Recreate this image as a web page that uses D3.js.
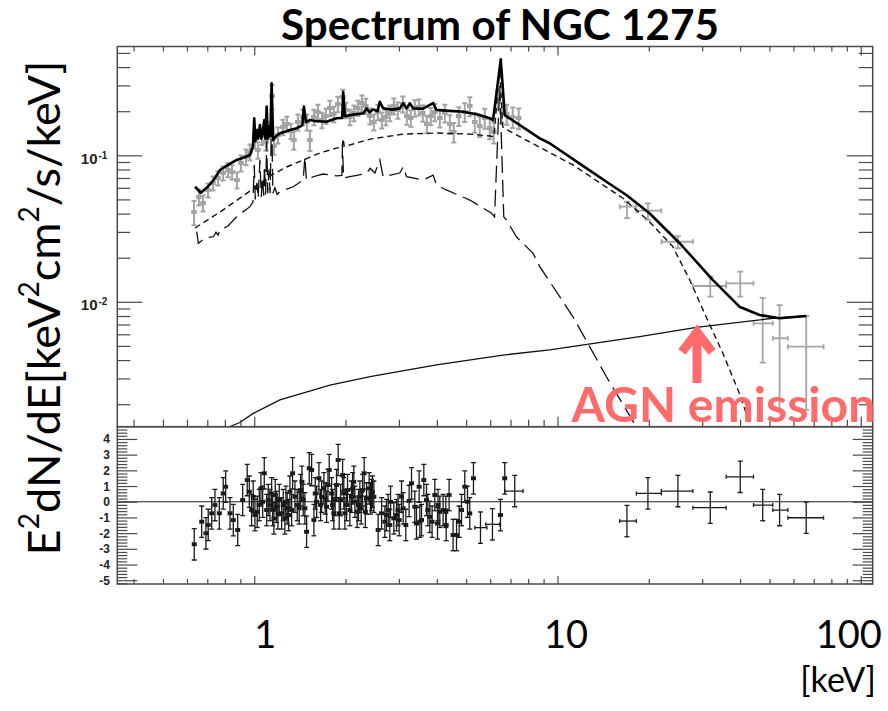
<!DOCTYPE html>
<html>
<head>
<meta charset="utf-8">
<script src="https://cdn.jsdelivr.net/npm/d3@7"></script>
<style>
  body { margin: 0; background: #fff; }
  svg { display: block; }
</style>
</head>
<body>
<svg id="chart" width="888" height="711"></svg>
<script>
// ---------------- data ----------------
// Energy axis ticks (keV)
const xMajorTicks = [1, 10, 100];
const xMinorTicks = [0.4, 0.5, 0.6, 0.7, 0.8, 0.9, 2, 3, 4, 5, 6, 7, 8, 9, 20, 30, 40, 50, 60, 70, 80, 90];
const xTickLabels = ["1", "10", "100"];
// Flux axis ticks (keV^2 cm^-2 s^-1 keV^-1)
const yMajorTicks = [0.01, 0.1];
const yMajorLabels = [["10", "-2"], ["10", "-1"]];
const yMinorTicks = [0.002, 0.003, 0.004, 0.005, 0.006, 0.007, 0.008, 0.009,
                     0.02, 0.03, 0.04, 0.05, 0.06, 0.07, 0.08, 0.09, 0.2, 0.3, 0.4, 0.5];
// Residual axis ticks (sigma)
const residMajorTicks = [-5, -4, -3, -2, -1, 0, 1, 2, 3, 4];
const residMinorTicks = [-5.2, -4.8, -4.6, -4.4, -4.2, -3.8, -3.6, -3.4, -3.2, -2.8, -2.6, -2.4, -2.2,
  -1.8, -1.6, -1.4, -1.2, -0.8, -0.6, -0.4, -0.2, 0.2, 0.4, 0.6, 0.8, 1.2, 1.4, 1.6, 1.8,
  2.2, 2.4, 2.6, 2.8, 3.2, 3.4, 3.6, 3.8, 4.2, 4.4, 4.6];

// Soft X-ray spectrum: [energy keV, E^2 dN/dE, error]
const softSpectrum = [
  [0.633,0.0410,0.0077],[0.657,0.0519,0.0065],[0.678,0.0472,0.0059],[0.704,0.0579,0.0064],
  [0.731,0.0647,0.0071],[0.759,0.0700,0.0077],[0.789,0.0757,0.0083],[0.819,0.0794,0.0087],
  [0.845,0.0769,0.0085],[0.877,0.0678,0.0085],[0.904,0.0886,0.0110],[0.939,0.0974,0.0120],
  [0.968,0.1053,0.0130],[1.005,0.1272,0.0170],[1.028,0.1087,0.0140],[1.060,0.1354,0.0180],
  [1.093,0.1233,0.0160],[1.126,0.1488,0.0190],[1.144,0.254,0.048],[1.161,0.1157,0.015],
  [1.197,0.1376,0.017],[1.243,0.1561,0.019],[1.281,0.1636,0.020],[1.321,0.1465,0.018],
  [1.351,0.1272,0.018],[1.393,0.1688,0.021],[1.447,0.1826,0.022],[1.492,0.1688,0.021],
  [1.526,0.1272,0.020],[1.573,0.1826,0.022],[1.622,0.1975,0.024],[1.672,0.1742,0.021],
  [1.723,0.1855,0.022],[1.776,0.2103,0.025],[1.830,0.1914,0.023],[1.887,0.224,0.027],
  [1.960,0.250,0.030],[2.005,0.2037,0.025],[2.067,0.1826,0.022],[2.131,0.1945,0.024],
  [2.196,0.2103,0.025],[2.264,0.2275,0.028],[2.333,0.2171,0.026],[2.406,0.1855,0.023],
  [2.480,0.1688,0.021],[2.556,0.1975,0.024],[2.635,0.1742,0.022],[2.716,0.1826,0.023],
  [2.800,0.1945,0.024],[2.886,0.2171,0.027],[2.975,0.2037,0.026],[3.090,0.224,0.028],
  [3.185,0.1855,0.024],[3.283,0.1797,0.023],[3.384,0.2103,0.027],[3.488,0.2138,0.027],
  [3.596,0.1945,0.025],[3.707,0.1636,0.022],[3.821,0.1855,0.025],[3.939,0.1975,0.027],
  [4.092,0.1797,0.025],[4.250,0.1945,0.027],[4.414,0.1636,0.024],[4.550,0.1442,0.022],
  [4.726,0.1855,0.027],[4.946,0.1975,0.029],[5.137,0.2171,0.032],[5.335,0.1688,0.026],
  [5.541,0.1585,0.025],[5.755,0.1797,0.028],[5.978,0.1536,0.025],[6.162,0.1442,0.024],
  [6.353,0.2385,0.036],[6.549,0.1975,0.031],[6.801,0.1914,0.030],[7.118,0.1826,0.029],
  [7.450,0.1797,0.029]
];

// Hard X-ray spectrum: [energy, bin low, bin high, flux, flux low, flux high]
const hardSpectrum = [
  [16.94,16.03,18.2,0.0446,0.0372,0.0482],
  [19.87,18.2,22.0,0.0419,0.0362,0.047],
  [24.95,22.0,27.96,0.0257,0.0232,0.0281],
  [31.9,27.96,36.0,0.01282,0.01083,0.01483],
  [40.05,36.0,44.3,0.01337,0.01083,0.01605],
  [47.5,44.3,51.3,0.00713,0.00384,0.01062],
  [54.0,51.3,57.5,0.00564,0.00183,0.0095],
  [66.1,57.5,75.4,0.00494,0.00183,0.008]
];

// Total model
const totalModel = [
  [0.638,0.061],[0.666,0.0555],[0.70,0.0605],[0.735,0.068],[0.771,0.0794],[0.82,0.086],
  [0.875,0.093],[0.93,0.097],[0.968,0.1005],[0.99,0.115],[1.0,0.179],[1.008,0.125],
  [1.023,0.149],[1.03,0.13],[1.044,0.161],[1.055,0.13],[1.065,0.14],[1.079,0.174],
  [1.088,0.13],[1.099,0.215],[1.108,0.13],[1.118,0.157],[1.13,0.135],[1.141,0.31],
  [1.155,0.127],[1.18,0.135],[1.215,0.1413],[1.26,0.145],[1.311,0.1488],[1.38,0.153],
  [1.44,0.16],[1.458,0.215],[1.48,0.1688],[1.525,0.174],[1.6,0.171],[1.732,0.1696],
  [1.867,0.1789],[1.95,0.18],[1.965,0.27],[1.99,0.185],[2.07,0.188],[2.29,0.1935],
  [2.346,0.209],[2.40,0.196],[2.466,0.206],[2.55,0.20],[2.594,0.232],[2.661,0.209],
  [2.85,0.205],[3.02,0.209],[3.10,0.2265],[3.18,0.209],[3.26,0.2265],[3.34,0.209],
  [3.6,0.208],[3.89,0.227],[3.99,0.2038],[4.4,0.201],[4.88,0.1985],[5.5,0.189],
  [5.98,0.179],[6.13,0.174],[6.50,0.452],[6.70,0.188],[8.74,0.1306],[9.42,0.1208],
  [12.0,0.086],[14.5,0.066],[16.87,0.0536],[20.1,0.0402],[25.3,0.0251],[32.5,0.0141],
  [39.8,0.00926],[46.4,0.00813],[54.0,0.00772],[66.1,0.0080]
];

// Hot thermal component (short dashes)
const hotThermal = [
  [0.638,0.0319],[0.771,0.041],[0.968,0.057],[1.126,0.0723],[1.279,0.0832],[1.45,0.0929],
  [1.646,0.1037],[1.867,0.112],[1.95,0.114],[1.965,0.13],[1.98,0.115],[2.12,0.1194],
  [2.41,0.129],[3.10,0.1396],[3.99,0.1419],[5.14,0.1396],[5.98,0.1355],[6.17,0.134],
  [6.45,0.394],[6.60,0.156],[6.70,0.152],[11.25,0.0859],[16.44,0.0509],[20.1,0.0352],
  [24.0,0.0238],[27.3,0.0141],[30.9,0.0079],[35.1,0.00445],[39.8,0.00237],[43.0,0.00148],
  [46.4,0.00105]
];

// Cool thermal component with emission lines (long dashes)
const coolThermal = [
  [0.646,0.0301],[0.654,0.0251],[0.688,0.0273],[0.733,0.0278],[0.748,0.0299],[0.76,0.0285],
  [0.771,0.0309],[0.819,0.0329],[0.875,0.0381],[0.968,0.0446],[0.99,0.048],[1.0,0.0857],
  [1.008,0.05],[1.02,0.065],[1.03,0.051],[1.044,0.093],[1.055,0.052],[1.065,0.07],
  [1.075,0.053],[1.08,0.085],[1.09,0.054],[1.099,0.125],[1.108,0.055],[1.118,0.08],
  [1.128,0.055],[1.141,0.19],[1.152,0.055],[1.17,0.06],[1.19,0.054],[1.215,0.0564],
  [1.345,0.061],[1.45,0.0678],[1.469,0.0978],[1.486,0.0678],[1.564,0.0714],[1.685,0.0745],
  [1.867,0.0723],[1.945,0.073],[1.954,0.1175],[1.97,0.07],[2.07,0.0714],[2.346,0.0754],
  [2.41,0.0815],[2.50,0.0757],[2.594,0.0929],[2.661,0.0714],[3.02,0.0757],[3.10,0.0836],
  [3.18,0.0714],[3.61,0.0678],[3.89,0.0733],[3.99,0.0627],[4.30,0.058],[5.14,0.0495],
  [6.06,0.0402],[6.20,0.038],[6.45,0.30],[6.65,0.038],[6.79,0.0362],[7.32,0.0278],
  [8.31,0.0214],[8.74,0.0174],[11.25,0.0079],[14.5,0.00308],[18.2,0.0014],[20,0.001]
];

// AGN power law (thin solid)
const agnPowerLaw = [
  [0.78,0.00125],[0.811,0.00137],[0.84,0.00142],[0.897,0.0015],[0.992,0.00173],
  [1.215,0.00214],[1.776,0.0027],[2.41,0.00308],[3.99,0.00371],[6.61,0.00433],
  [9.42,0.00469],[18.66,0.00578],[28.7,0.0067],[51.3,0.00772],[66.1,0.0080]
];

// Residuals, soft band: [energy, (data-model)/sigma]
const softResiduals = [
  [0.634,-2.71],[0.671,-1.27],[0.693,-2.01],[0.705,-1.48],[0.724,-0.74],[0.742,-0.21],
  [0.767,-0.74],[0.790,0.53],[0.805,0.96],[0.832,-0.74],[0.853,-1.17],[0.882,-1.8],
  [0.916,0.11],[0.948,1.38],[0.963,0.64],[0.980,-0.53],[0.992,0.32],[1.005,-0.85],
  [1.023,-0.64],[1.039,-0.21],[1.052,0.85],[1.066,0.0],[1.079,1.81],[1.099,-0.53],
  [1.112,0.11],[1.126,-0.21],[1.141,0.53],[1.150,-0.53],[1.161,-1.06],[1.173,0.43],
  [1.185,-0.32],[1.197,-0.74],[1.209,0.11],[1.231,-0.74],[1.246,-0.21],[1.262,-1.06],
  [1.272,0.0],[1.284,-0.42],[1.298,-0.85],[1.311,0.64],[1.328,-0.53],[1.338,1.81],
  [1.362,0.32],[1.386,-0.21],[1.407,-0.42],[1.422,0.74],[1.436,1.27],[1.450,0.11],
  [1.469,-0.42],[1.488,-1.91],[1.518,2.13],[1.546,2.02],[1.573,-1.17],[1.589,0.53],
  [1.606,0.0],[1.634,1.49],[1.655,-0.21],[1.668,0.32],[1.697,0.85],[1.714,0.21],
  [1.732,-0.32],[1.750,1.06],[1.767,2.02],[1.799,0.53],[1.813,-0.21],[1.830,-0.74],
  [1.848,0.11],[1.868,1.06],[1.891,2.66],[1.906,-0.74],[1.926,0.11],[1.956,1.7],
  [1.974,0.53],[1.990,-0.74],[2.016,-0.21],[2.031,0.74],[2.067,-0.53],[2.092,0.32],
  [2.110,0.85],[2.130,1.27],[2.147,0.0],[2.185,-0.64],[2.207,-0.21],[2.230,0.32],
  [2.253,-0.42],[2.276,0.74],[2.304,1.81],[2.324,-0.64],[2.346,0.21],[2.393,0.85],
  [2.416,0.21],[2.437,0.43],[2.452,0.64],[2.480,0.32],[2.562,-1.8],[2.630,-0.74],
  [2.696,-1.27],[2.729,-0.85],[2.764,-0.53],[2.799,-1.48],[2.815,0.0],[2.886,-1.06],
  [2.946,-0.85],[2.980,-0.53],[3.005,-1.17],[3.060,0.32],[3.098,-0.42],[3.161,-1.48],
  [3.241,0.05],[3.301,1.17],[3.384,-0.32],[3.428,-1.38],[3.497,0.96],[3.516,-1.27],
  [3.561,-1.17],[3.624,1.38],[3.698,0.11],[3.737,-0.53],[3.792,-0.96],[3.859,-1.27],
  [3.939,0.43],[4.021,-1.38],[4.037,-0.21],[4.092,-0.64],[4.196,-0.53],[4.283,-0.64],
  [4.295,-1.48],[4.391,0.43],[4.526,-2.12],[4.645,-2.12],[4.738,-1.27],[4.825,-0.53],
  [4.946,0.96],[5.049,0.0],[5.137,-0.74],[5.283,1.49],[6.484,-0.85],[6.699,1.49]
];
// Residuals of the wider soft bins: [energy, bin low, bin high, residual]
const wideResiduals = [
  [5.572,5.34,5.85,-1.65],[6.102,5.80,6.44,-1.44],[7.228,6.70,7.70,0.68]
];
// Residuals, hard band: [energy, bin low, bin high, residual]
const hardResiduals = [
  [16.94,16.03,18.2,-1.23],[19.87,18.2,22.0,0.53],[24.95,22.0,27.96,0.68],
  [31.9,27.96,36.0,-0.38],[40.05,36.0,44.3,1.59],[47.5,44.3,51.3,-0.21],
  [54.0,51.3,57.5,-0.53],[66.1,57.5,75.4,-1.02]
];
const residSigma = 1.0;
const narrowBinDex = 0.006;

// ---------------- layout ----------------
const svg = d3.select("#chart");
const L = 117.3, R = 872.7, T = 46.5, M = 426.7, B = 584;

const x = d3.scaleLog().domain([0.3535, 109.5]).range([L, R]);
const y = d3.scaleLog().domain([0.001404, 0.553]).range([M, T]);
const yr = d3.scaleLinear().domain([-5.24, 4.78]).range([B, M]);

const defs = svg.append("defs");
defs.append("clipPath").attr("id", "clipTop")
  .append("rect").attr("x", L).attr("y", T).attr("width", R - L).attr("height", M - T);
defs.append("clipPath").attr("id", "clipRes")
  .append("rect").attr("x", L).attr("y", M).attr("width", R - L).attr("height", B - M);

const AX = "#4a4a4a";

// ---------------- error-bar helper ----------------
function errorBars(g, pts, color, width, cap, sq) {
  const gg = g.append("g").attr("stroke", color).attr("stroke-width", width).attr("fill", "none");
  pts.forEach(p => {
    const cx = x(p.e), cy = p.sy(p.v);
    const x0 = x(p.e0), x1 = x(p.e1);
    const yTop = p.sy(p.v1), yBot = p.sy(p.v0);
    gg.append("line").attr("x1", cx).attr("x2", cx).attr("y1", yTop).attr("y2", yBot);
    gg.append("line").attr("x1", x0).attr("x2", x1).attr("y1", cy).attr("y2", cy);
    gg.append("line").attr("x1", cx - cap).attr("x2", cx + cap).attr("y1", yTop).attr("y2", yTop);
    gg.append("line").attr("x1", cx - cap).attr("x2", cx + cap).attr("y1", yBot).attr("y2", yBot);
    gg.append("line").attr("x1", x0).attr("x2", x0).attr("y1", cy - cap + 0.5).attr("y2", cy + cap - 0.5);
    gg.append("line").attr("x1", x1).attr("x2", x1).attr("y1", cy - cap + 0.5).attr("y2", cy + cap - 0.5);
    if (sq > 0) {
      g.append("rect").attr("x", cx - sq / 2).attr("y", cy - sq / 2)
        .attr("width", sq).attr("height", sq).attr("fill", color);
    }
  });
}

// ---------------- upper panel ----------------
const upper = svg.append("g").attr("clip-path", "url(#clipTop)");
const binFactor = Math.pow(10, narrowBinDex);

errorBars(upper, softSpectrum.map(d => ({
  e: d[0], e0: d[0] / binFactor, e1: d[0] * binFactor, v: d[1], v0: d[1] - d[2], v1: d[1] + d[2], sy: y
})), "#a3a3a3", 2, 2.5, 4);

errorBars(upper, hardSpectrum.map(d => ({
  e: d[0], e0: d[1], e1: d[2], v: d[3], v0: d[4], v1: d[5], sy: y
})), "#a6a6a6", 1.8, 3, 0);

const line = d3.line().x(d => x(d[0])).y(d => y(d[1]));

upper.append("path").datum(agnPowerLaw).attr("d", line)
  .attr("fill", "none").attr("stroke", "#111").attr("stroke-width", 1.3);
upper.append("path").datum(coolThermal).attr("d", line)
  .attr("fill", "none").attr("stroke", "#111").attr("stroke-width", 1.3)
  .attr("stroke-dasharray", "17,7");
upper.append("path").datum(hotThermal).attr("d", line)
  .attr("fill", "none").attr("stroke", "#111").attr("stroke-width", 1.4)
  .attr("stroke-dasharray", "6,4");
upper.append("path").datum(totalModel).attr("d", line)
  .attr("fill", "none").attr("stroke", "#000").attr("stroke-width", 2.6)
  .attr("stroke-linejoin", "round");

// ---------------- residual panel ----------------
const res = svg.append("g").attr("clip-path", "url(#clipRes)");
res.append("line").attr("x1", L).attr("x2", R).attr("y1", yr(0)).attr("y2", yr(0))
  .attr("stroke", "#222").attr("stroke-width", 1.2);

errorBars(res, softResiduals.map(d => ({
  e: d[0], e0: d[0] / binFactor, e1: d[0] * binFactor, v: d[1], v0: d[1] - residSigma, v1: d[1] + residSigma, sy: yr
})), "#1a1a1a", 1.3, 2.5, 3.5);
errorBars(res, wideResiduals.concat(hardResiduals).map(d => ({
  e: d[0], e0: d[1], e1: d[2], v: d[3], v0: d[3] - residSigma, v1: d[3] + residSigma, sy: yr
})), "#1a1a1a", 1.3, 2.5, 0);

// ---------------- axes ----------------
function tickAxis(gen, tx, ty, vals, size) {
  const g = svg.append("g").attr("transform", `translate(${tx},${ty})`)
    .call(gen.tickValues(vals).tickSize(size).tickFormat(""));
  g.select(".domain").remove();
  g.selectAll("line").attr("stroke", AX).attr("stroke-width", 1.2);
}
// energy ticks
tickAxis(d3.axisTop(x), 0, T, xMinorTicks, -5);
tickAxis(d3.axisTop(x), 0, T, xMajorTicks, -9);
tickAxis(d3.axisBottom(x), 0, M, xMinorTicks, -7);
tickAxis(d3.axisBottom(x), 0, M, xMajorTicks, -10);
tickAxis(d3.axisBottom(x), 0, B, xMinorTicks, -5);
tickAxis(d3.axisBottom(x), 0, B, xMajorTicks, -8);
// flux ticks
tickAxis(d3.axisLeft(y), L, 0, yMinorTicks, -13);
tickAxis(d3.axisLeft(y), L, 0, yMajorTicks, -25);
tickAxis(d3.axisRight(y), R, 0, yMinorTicks, -14);
tickAxis(d3.axisRight(y), R, 0, yMajorTicks, -26);
// residual ticks
tickAxis(d3.axisLeft(yr), L, 0, residMinorTicks, -10);
tickAxis(d3.axisLeft(yr), L, 0, residMajorTicks, -20);
tickAxis(d3.axisRight(yr), R, 0, residMinorTicks, -10);
tickAxis(d3.axisRight(yr), R, 0, residMajorTicks, -20);

// frames
svg.append("rect").attr("x", L).attr("y", T).attr("width", R - L).attr("height", M - T)
  .attr("fill", "none").attr("stroke", AX).attr("stroke-width", 1.5);
svg.append("rect").attr("x", L).attr("y", M).attr("width", R - L).attr("height", B - M)
  .attr("fill", "none").attr("stroke", AX).attr("stroke-width", 1.5);

// flux tick labels
yMajorTicks.forEach((v, i) => {
  svg.append("text").attr("x", 97.5).attr("y", y(v) + 8.7)
    .attr("text-anchor", "end").attr("font-family", "Liberation Sans, Arial, sans-serif")
    .attr("font-weight", "bold").attr("font-size", 15).attr("fill", "#222")
    .text(yMajorLabels[i][0]);
  svg.append("text").attr("x", 98.5).attr("y", y(v) + 3.5)
    .attr("font-family", "Liberation Sans, Arial, sans-serif")
    .attr("font-weight", "bold").attr("font-size", 10).attr("fill", "#222")
    .text(yMajorLabels[i][1]);
});
// residual tick labels
svg.append("g").selectAll("text").data(residMajorTicks).join("text")
  .attr("x", 110).attr("y", d => yr(d) + 4.5)
  .attr("text-anchor", "end").attr("font-family", "Liberation Sans, Arial, sans-serif")
  .attr("font-weight", "bold").attr("font-size", 12).attr("fill", "#222")
  .text(d => String(d));

// ---------------- text ----------------
function fitWidth(sel, target) {
  const w = sel.node().getComputedTextLength();
  const fs = parseFloat(sel.attr("font-size"));
  sel.attr("font-size", fs * target / w);
}

const title = svg.append("text").attr("x", 500).attr("y", 40)
  .attr("text-anchor", "middle").attr("font-family", "Lato, sans-serif")
  .attr("font-weight", "bold").attr("font-size", 40).attr("fill", "#000")
  .text("Spectrum of NGC 1275");
fitWidth(title, 438);

// y-axis title
const yt = svg.append("text").attr("transform", "translate(60,308) rotate(-90)")
  .attr("text-anchor", "middle").attr("font-family", "Lato, sans-serif")
  .attr("font-size", 40).attr("fill", "#000");
[["E", false], ["2", true], ["dN/dE[keV", false], ["2", true], ["cm", false], ["2", true], ["/s/keV]", false]]
  .forEach(([s, sup]) => {
    const ts = yt.append("tspan").text(s);
    if (sup) ts.attr("font-size", "0.62em").attr("baseline-shift", "0.75em");
  });
fitWidth(yt, 495);

// energy labels, set slightly apart from their ticks
const xLabelNudge = [11, 8.5, -12];
xMajorTicks.forEach((v, i) => {
  svg.append("text").attr("x", x(v) + xLabelNudge[i]).attr("y", 648)
    .attr("text-anchor", "middle").attr("font-family", "Lato, sans-serif")
    .attr("font-size", 38).attr("fill", "#000").text(xTickLabels[i]);
});
svg.append("text").attr("x", 876).attr("y", 692)
  .attr("text-anchor", "end").attr("font-family", "Lato, sans-serif")
  .attr("font-size", 34).attr("fill", "#000").text("[keV]");

// AGN annotation
const RED = "#ff6b6b";
const agn = svg.append("text").attr("x", 571.5).attr("y", 421.5)
  .attr("font-family", "Lato, sans-serif").attr("font-weight", "bold")
  .attr("font-size", 42).attr("fill", RED).text("AGN emission");
fitWidth(agn, 304);

const ax = 697;
svg.append("line").attr("x1", ax).attr("x2", ax).attr("y1", 383).attr("y2", 332)
  .attr("stroke", RED).attr("stroke-width", 9);
svg.append("path").attr("d", `M${ax - 15},${352} L${ax},${332} L${ax + 15},${352}`)
  .attr("fill", "none").attr("stroke", RED).attr("stroke-width", 9)
  .attr("stroke-linejoin", "miter").attr("stroke-linecap", "butt");
</script>
</body>
</html>
